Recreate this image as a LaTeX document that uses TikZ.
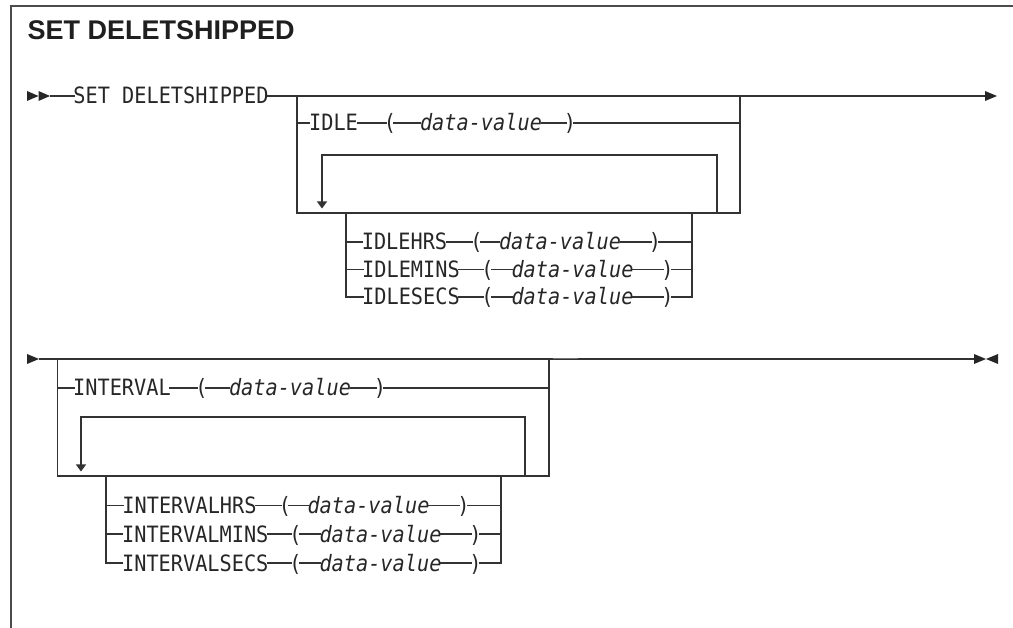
\documentclass[tikz,border=0pt]{standalone}
\usepackage{fontspec}
\setmainfont{Liberation Sans}
\newfontfamily\synfont[FakeStretch=0.9]{DejaVu Sans Mono}
\usetikzlibrary{arrows.meta}
\tikzset{
  kw/.style={font=\synfont\fontsize{22.5}{26}\selectfont, text=black!85, inner xsep=-1.5pt, inner ysep=0pt, text height=16pt, text depth=0pt, anchor=center},
  pn/.style={kw, inner xsep=-3pt},
  var/.style={kw, font=\synfont\fontsize{22.5}{26}\selectfont\itshape},
  rail/.style={line width=1.2pt, draw=black!80},
  loop/.style={rail, -{Triangle[length=7pt,width=10pt]}},
  tipfill/.style={fill=black!85},
}
\begin{document}
\begin{tikzpicture}[x=1pt,y=-1pt]
\useasboundingbox (0,0) rectangle (1013,628);
% frame
\draw[line width=1.8pt, black!70] (11,628) -- (11,6) -- (1013,6);
\node[anchor=base west, font=\bfseries\fontsize{27}{31}\selectfont, inner sep=0pt, text=black!88] (title) at (27.5,39.5) {SET DELETSHIPPED};

% ---------- part 1 ----------
\fill[tipfill] (27,91) -- (38.5,96) -- (27,101) -- cycle;
\fill[tipfill] (38.5,91) -- (50,96) -- (38.5,101) -- cycle;
\fill[tipfill] (985,91) -- (997,96) -- (985,101) -- cycle;
\coordinate (a1) at (50,96);
\coordinate (b1) at (985,96);
\coordinate (L1) at (297,96);
\coordinate (R1) at (740,96);
\coordinate (L1b) at (297,213);
\coordinate (R1b) at (740,213);
\coordinate (lp1R) at (717,155);
\coordinate (lp1L) at (322,155);
\coordinate (lp1T) at (322,208.5);
\coordinate (sb1L) at (346,213);
\coordinate (sb1R) at (692,213);

\node[kw] (set) at (171,96) {SET DELETSHIPPED};
\node[kw] (idle) at (333.5,123) {IDLE};
\node[pn] (lpA) at (390,123) {(};
\node[var] (dvA) at (481,123) {data-value};
\node[pn] (rpA) at (570,123) {)};

\node[kw] (ihrs) at (404.5,242) {IDLEHRS};
\node[pn] (lpB) at (476.5,242) {(};
\node[var] (dvB) at (560,242) {data-value};
\node[pn] (rpB) at (655,242) {)};

\node[kw] (imins) at (411,269.5) {IDLEMINS};
\node[pn] (lpC) at (487.5,269.5) {(};
\node[var] (dvC) at (572.5,269.5) {data-value};
\node[pn] (rpC) at (667.5,269.5) {)};

\node[kw] (isecs) at (411,297) {IDLESECS};
\node[pn] (lpD) at (487.5,297) {(};
\node[var] (dvD) at (572.5,297) {data-value};
\node[pn] (rpD) at (667.5,297) {)};

\draw[rail] (a1) -- (set) -- (b1);
\draw[rail] (L1) -- (L1b) -- (R1b) -- (R1);
\draw[rail] (L1 |- idle) -- (idle) -- (lpA) -- (dvA) -- (rpA) -- (R1 |- idle);
\draw[loop] (lp1R |- L1b) -- (lp1R) -- (lp1L) -- (lp1T);
\draw[rail] (sb1L |- ihrs) -- (ihrs) -- (lpB) -- (dvB) -- (rpB) -- (sb1R |- ihrs);
\draw[rail] (sb1L |- imins) -- (imins) -- (lpC) -- (dvC) -- (rpC) -- (sb1R |- imins);
\draw[rail] (sb1L) -- (sb1L |- isecs) -- (isecs) -- (lpD) -- (dvD) -- (rpD) -- (sb1R |- isecs) -- (sb1R);

% ---------- part 2 ----------
\fill[tipfill] (27,354) -- (39,359) -- (27,364) -- cycle;
\fill[tipfill] (974,354) -- (986,359) -- (974,364) -- cycle;
\fill[tipfill] (998,354) -- (986,359) -- (998,364) -- cycle;
\coordinate (a2) at (39,359);
\coordinate (b2) at (974,359);
\coordinate (L2) at (57.7,359);
\coordinate (R2) at (549,359);
\coordinate (L2b) at (57.7,476);
\coordinate (R2b) at (549,476);
\coordinate (lp2R) at (525,417);
\coordinate (lp2L) at (81,417);
\coordinate (lp2T) at (81,471.5);
\coordinate (sb2L) at (106,476);
\coordinate (sb2R) at (501,476);

\node[kw] (iv) at (122,388) {INTERVAL};
\node[pn] (lpE) at (201.5,388) {(};
\node[var] (dvE) at (290,388) {data-value};
\node[pn] (rpE) at (380,388) {)};

\node[kw] (ivh) at (189.5,505.7) {INTERVALHRS};
\node[pn] (lpF) at (285,505.7) {(};
\node[var] (dvF) at (368.5,505.7) {data-value};
\node[pn] (rpF) at (463.5,505.7) {)};

\node[kw] (ivm) at (195.3,534) {INTERVALMINS};
\node[pn] (lpG) at (295.5,534) {(};
\node[var] (dvG) at (380.5,534) {data-value};
\node[pn] (rpG) at (475.5,534) {)};

\node[kw] (ivs) at (195.3,563) {INTERVALSECS};
\node[pn] (lpH) at (295.5,563) {(};
\node[var] (dvH) at (380.5,563) {data-value};
\node[pn] (rpH) at (475.5,563) {)};

\draw[rail] (a2) -- (b2);
\draw[line width=1.5pt, black!55] (553,358.4) -- (578,358.4);
\draw[rail] (L2) -- (L2b) -- (R2b) -- (R2);
\draw[rail] (L2 |- iv) -- (iv) -- (lpE) -- (dvE) -- (rpE) -- (R2 |- iv);
\draw[loop] (lp2R |- L2b) -- (lp2R) -- (lp2L) -- (lp2T);
\draw[rail] (sb2L |- ivh) -- (ivh) -- (lpF) -- (dvF) -- (rpF) -- (sb2R |- ivh);
\draw[rail] (sb2L |- ivm) -- (ivm) -- (lpG) -- (dvG) -- (rpG) -- (sb2R |- ivm);
\draw[rail] (sb2L) -- (sb2L |- ivs) -- (ivs) -- (lpH) -- (dvH) -- (rpH) -- (sb2R |- ivs) -- (sb2R);
\end{tikzpicture}
\end{document}
